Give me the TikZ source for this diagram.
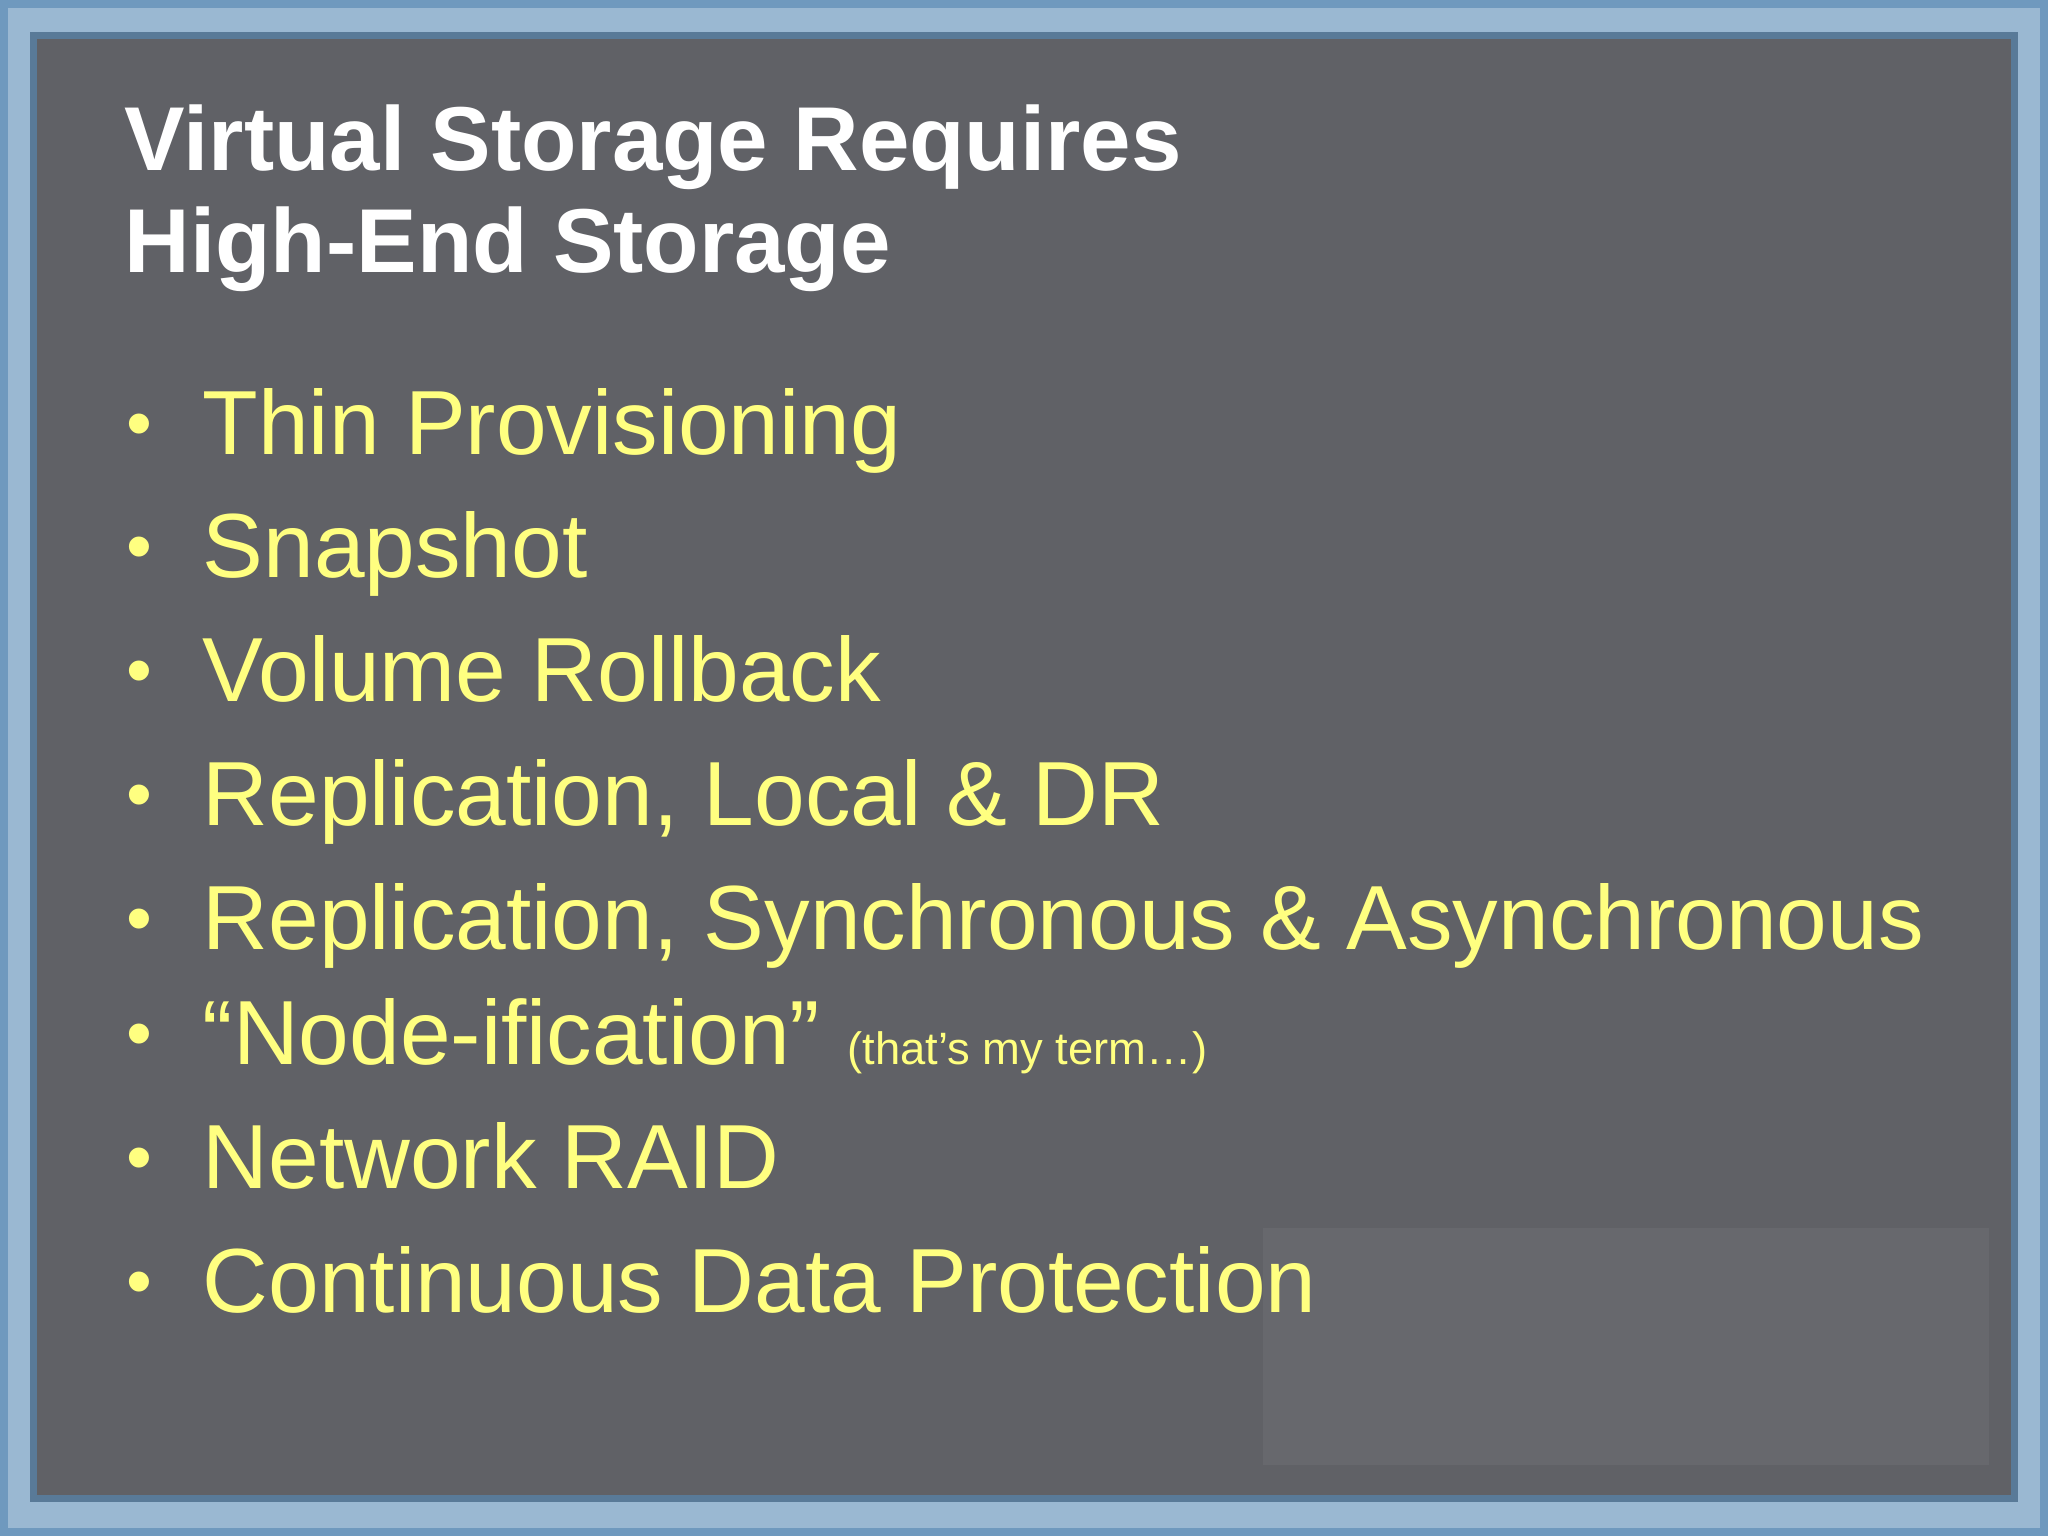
\documentclass[tikz,border=0pt]{standalone}
\usepackage{fontspec}
\setmainfont{Liberation Sans}
\begin{document}
\begin{tikzpicture}[x=0.01cm,y=-0.01cm,
  bul/.style={anchor=base west,inner sep=0,text=yellowtxt,font=\fontsize{25.9}{30}\selectfont},
  dot/.style={anchor=base west,inner sep=0,text=yellowtxt,font=\fontsize{21}{24}\selectfont},
  ttl/.style={anchor=base west,inner sep=0,text=white,font=\bfseries\fontsize{25.8}{30}\selectfont}]
\definecolor{bordblue}{HTML}{6F99BE}
\definecolor{bg}{HTML}{606166}
\definecolor{bgl}{HTML}{67686D}
\definecolor{yellowtxt}{HTML}{FFFF80}
\useasboundingbox (0,0) rectangle (2048,1536);
\fill[bordblue] (0,0) rectangle (2048,1536);
\fill[bordblue!70!white] (8,8) rectangle (2040,1528);
\fill[bordblue!80!black] (30,32) rectangle (2018,1502);
\fill[bg] (37,39) rectangle (2011,1495);
\fill[bgl] (1263,1228) rectangle (1989,1465);
\node[ttl] (t1) at (124,170) {Virtual Storage Requires};
\node[ttl] (t2) at (124,272) {High-End Storage};
\foreach \y/\t [count=\i] in {454/Thin Provisioning,577/Snapshot,701/Volume Rollback,825/{Replication, Local \& DR},949/{Replication, Synchronous \& Asynchronous},1064/{“Node-ification”\hspace{0.3em}{\fontsize{12.9}{14}\selectfont (that’s my term…)}},1188/Network RAID,1312/Continuous Data Protection}{
  \node[dot] (d\i) at (126,\y-6) {•};
  \node[bul] (b\i) at (202,\y) {\t};
}
\end{tikzpicture}
\end{document}
